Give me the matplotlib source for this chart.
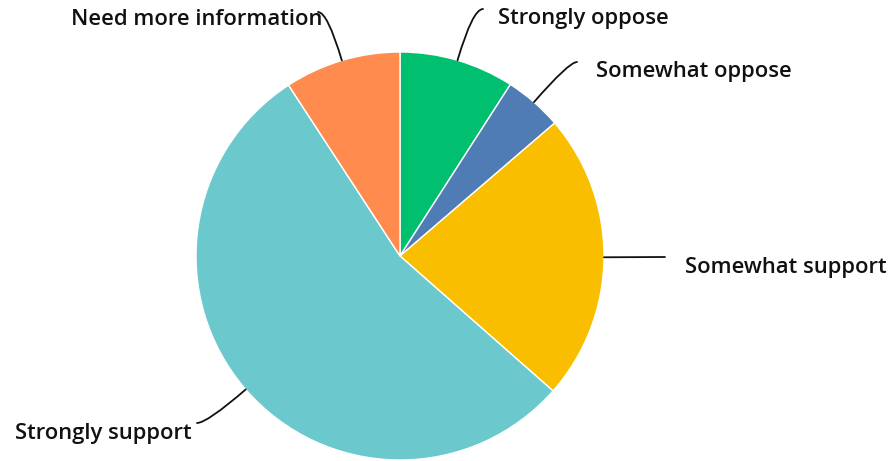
import matplotlib
matplotlib.use("Agg")
import matplotlib.pyplot as plt
import numpy as np
from matplotlib.path import Path
from matplotlib.patches import PathPatch

categories = ["Strongly oppose", "Somewhat oppose", "Somewhat support",
              "Strongly support", "Need more information"]
values = [9.1, 4.6, 22.8, 54.3, 9.2]
colors = ["#00BF6F", "#507CB6", "#F9BE00", "#6BC8CD", "#FF8B4F"]

W, H = 891, 461
R = 204.0
cx, cy = 400.0, 256.0

fig = plt.figure(figsize=(W / 100, H / 100), dpi=100)
ax = fig.add_axes([0, 0, 1, 1])
ax.axis("off")

wedges, _ = ax.pie(values, colors=colors, startangle=90, counterclock=False,
                   radius=1.0, wedgeprops=dict(edgecolor="white", linewidth=1))
ax.set_xlim(-cx / R, (W - cx) / R)
ax.set_ylim(-(H - cy) / R, cy / R)
ax.set_aspect("auto")

def px(x, y):
    return ((x - cx) / R, (cy - y) / R)

# label layout: (connector end px, text anchor px, ha)
layout = {
    "Strongly oppose": ((483, 9), (498, 19), "left"),
    "Somewhat oppose": ((577, 62), (596, 72), "left"),
    "Somewhat support": ((665, 257), (685, 267), "left"),
    "Strongly support": ((197, 423), (192, 434), "right"),
    "Need more information": ((318, 12), (322, 20), "right"),
}

for w, cat in zip(wedges, categories):
    mid = np.deg2rad((w.theta1 + w.theta2) / 2)
    p0 = np.array([np.cos(mid), np.sin(mid)])
    end, txt, ha = layout[cat]
    p2 = np.array(px(*end))
    d = p0.copy()
    if abs(p2[1] - p0[1]) < 0.02:
        verts = [p0, p2]
        codes = [Path.MOVETO, Path.LINETO]
    else:
        t = (p2[1] - p0[1]) / d[1]
        p1 = p0 + t * d
        verts = [p0, p1, p2]
        codes = [Path.MOVETO, Path.CURVE3, Path.CURVE3]
    ax.add_patch(PathPatch(Path(verts, codes), fill=False, lw=1.3,
                           edgecolor="#111111", capstyle="round"))
    tx, ty = px(*txt)
    ax.text(tx, ty, cat, ha=ha, va="center", fontsize=15.8,
            family=["Open Sans", "DejaVu Sans"], fontweight="semibold",
            color="#111111")

fig.savefig("out.png", dpi=100)
